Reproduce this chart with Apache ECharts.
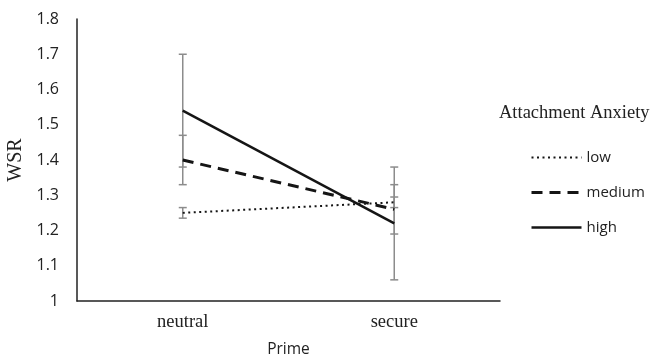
<!DOCTYPE html>
<html>
<head>
<meta charset="utf-8">
<script src="https://cdn.jsdelivr.net/npm/echarts@6/dist/echarts.min.js"></script>
<style>
html,body{margin:0;padding:0;background:#fff;}
#chart{width:654px;height:359px;}
</style>
</head>
<body>
<div id="chart"></div>
<script>
var categories = ['neutral', 'secure'];
var seriesNames = ['low', 'medium', 'high'];
var lowValues = [1.25, 1.28];
var mediumValues = [1.40, 1.26];
var highValues = [1.54, 1.22];
var lowErrLo = [1.235, 1.265];
var lowErrHi = [1.265, 1.295];
var mediumErrLo = [1.33, 1.19];
var mediumErrHi = [1.47, 1.33];
var highErrLo = [1.38, 1.06];
var highErrHi = [1.70, 1.38];
var yTicks = [1, 1.1, 1.2, 1.3, 1.4, 1.5, 1.6, 1.7, 1.8];

var errData = [];
[[lowErrLo, lowErrHi], [mediumErrLo, mediumErrHi], [highErrLo, highErrHi]].forEach(function (pair) {
  for (var i = 0; i < categories.length; i++) {
    errData.push([i, pair[0][i], pair[1][i]]);
  }
});

var sans = '"Open Sans", "Liberation Sans", sans-serif';
var serif = '"Liberation Serif", "DejaVu Serif", serif';
var lineColor = '#151515';
var lineTypes = [[2, 3.5], [11, 7], 'solid'];
var lineWidths = [2, 3, 2.5];

var chart = echarts.init(document.getElementById('chart'));
chart.setOption({
  animation: false,
  backgroundColor: '#fff',
  title: {
    text: 'Attachment Anxiety',
    left: 499,
    top: 104,
    padding: 0,
    textStyle: { fontFamily: serif, fontSize: 18.5, fontWeight: 'normal', color: '#222' }
  },
  legend: {
    data: seriesNames.map(function (n, i) {
      return { name: n, lineStyle: { color: lineColor, width: lineWidths[i], type: lineTypes[i] } };
    }),
    orient: 'vertical',
    left: 530,
    top: 150,
    padding: 0,
    itemWidth: 50,
    itemHeight: 14,
    itemGap: 20,
    itemStyle: { opacity: 0 },
    textStyle: { fontFamily: sans, fontSize: 15, color: '#222' }
  },
  grid: { left: 77, right: 154, top: 19, bottom: 58, containLabel: false, outerBoundsMode: 'none' },
  xAxis: {
    type: 'category',
    data: categories,
    boundaryGap: true,
    name: 'Prime',
    nameLocation: 'middle',
    nameGap: 41,
    nameTextStyle: { fontFamily: sans, fontSize: 15.5, color: '#222' },
    axisLine: { lineStyle: { color: '#222', width: 1.5 } },
    axisTick: { show: false },
    axisLabel: { fontFamily: serif, fontSize: 18.5, color: '#222', margin: 12 }
  },
  yAxis: {
    type: 'value',
    min: yTicks[0],
    max: yTicks[yTicks.length - 1],
    interval: 0.1,
    name: 'WSR',
    nameLocation: 'middle',
    nameGap: 47,
    nameTextStyle: { fontFamily: serif, fontSize: 20, color: '#222' },
    axisLine: { show: true, lineStyle: { color: '#222', width: 1.5 } },
    axisTick: { show: false },
    splitLine: { show: false },
    axisLabel: {
      fontFamily: sans, fontSize: 16, color: '#222', margin: 18,
      formatter: function (v) { return String(Math.round(v * 10) / 10); }
    }
  },
  series: [
    {
      name: 'errorbars',
      type: 'custom',
      z: 1,
      silent: true,
      data: errData,
      renderItem: function (params, api) {
        var x = api.value(0);
        var lo = api.coord([x, api.value(1)]);
        var hi = api.coord([x, api.value(2)]);
        var hw = 4;
        var style = { stroke: '#8c8c8c', lineWidth: 1.5, fill: null };
        return {
          type: 'group',
          children: [
            { type: 'line', shape: { x1: lo[0], y1: lo[1], x2: hi[0], y2: hi[1] }, style: style },
            { type: 'line', shape: { x1: lo[0] - hw, y1: lo[1], x2: lo[0] + hw, y2: lo[1] }, style: style },
            { type: 'line', shape: { x1: hi[0] - hw, y1: hi[1], x2: hi[0] + hw, y2: hi[1] }, style: style }
          ]
        };
      }
    },
    {
      name: seriesNames[0], type: 'line', data: lowValues, symbol: 'none', z: 3,
      lineStyle: { color: lineColor, width: lineWidths[0], type: lineTypes[0] },
      itemStyle: { color: lineColor }
    },
    {
      name: seriesNames[1], type: 'line', data: mediumValues, symbol: 'none', z: 3,
      lineStyle: { color: lineColor, width: lineWidths[1], type: lineTypes[1] },
      itemStyle: { color: lineColor }
    },
    {
      name: seriesNames[2], type: 'line', data: highValues, symbol: 'none', z: 3,
      lineStyle: { color: lineColor, width: lineWidths[2], type: lineTypes[2] },
      itemStyle: { color: lineColor }
    }
  ]
});
</script>
</body>
</html>
